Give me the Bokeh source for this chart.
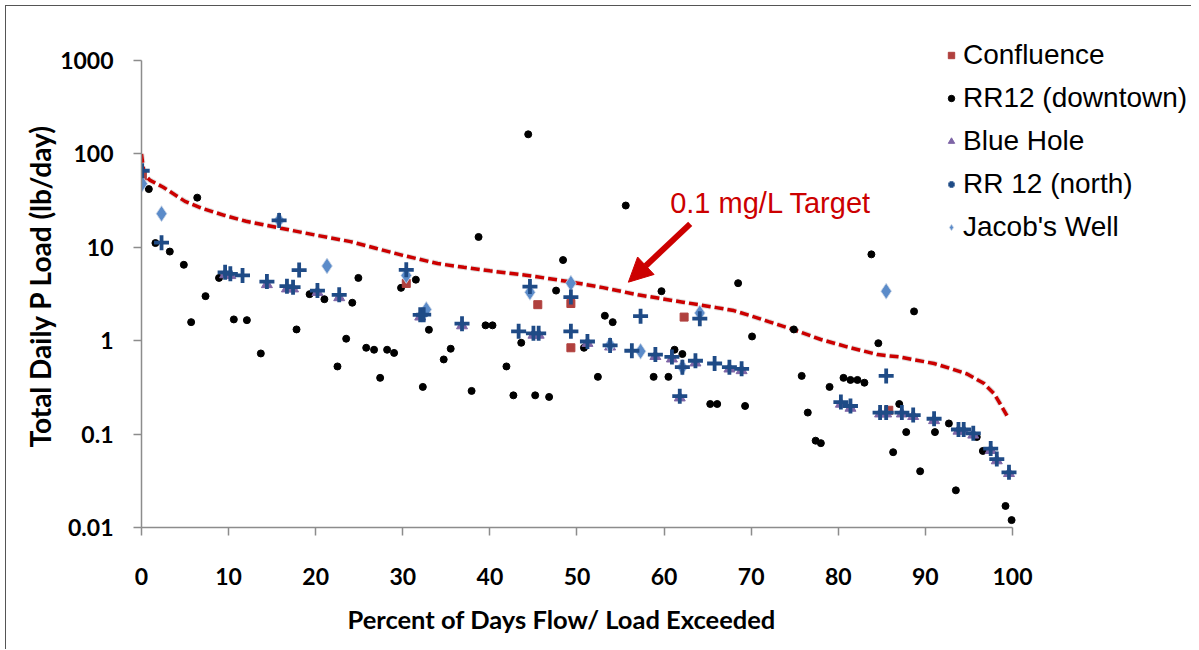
from bokeh.plotting import figure
from bokeh.models import (FixedTicker, Legend, LegendItem, Arrow, NormalHead, Label, Title)
from bokeh.embed import file_html
from bokeh.resources import INLINE

# ---------------- data ----------------
target_x = [0, 0.3, 1, 2.5, 5, 7, 9.5, 12, 16, 20, 24, 27, 30, 34, 37, 40, 45, 49, 53, 57,
            62, 66, 68, 70, 72, 75, 78, 81, 84.5, 87, 91, 93, 94.8, 96.7, 97.9, 98.6, 99.5]
target_y = [100, 60, 52, 44, 31, 26, 22, 19, 16, 13.5, 11.5, 9.7, 8.2, 6.7, 6.1, 5.6, 4.9, 4.3,
            3.7, 3.1, 2.6, 2.26, 2.1, 1.84, 1.6, 1.3, 1.03, 0.86, 0.71, 0.67, 0.57, 0.5, 0.44,
            0.35, 0.27, 0.21, 0.15]

rr12_down_x = [0.84, 1.6, 3.25, 4.86, 5.7, 6.4, 7.35, 8.9, 10.6, 12.1, 13.7, 17.8, 19.3, 21.0,
               22.5, 23.5, 24.2, 24.9, 25.8, 26.7, 27.4, 28.2, 29.0, 29.8, 31.5, 32.3, 33.0,
               34.7, 35.5, 37.9, 38.7, 39.5, 40.3, 41.9, 42.7, 43.6, 44.4, 45.2, 46.8, 47.6,
               48.4, 50.8, 52.4, 53.2, 54.1, 55.6, 58.8, 59.7, 60.5, 61.2, 62.1, 65.3, 66.1,
               68.5, 69.3, 70.1, 74.9, 75.8, 76.5, 77.4, 78.0, 79.0, 80.6, 81.4, 82.2, 83.0,
               83.8, 84.6, 86.3, 87.0, 87.8, 88.7, 89.4, 91.1, 92.7, 93.5, 95.9, 96.6, 99.2, 99.9]
rr12_down_y = [42, 11.1, 9.0, 6.5, 1.58, 34, 3.0, 4.7, 1.69, 1.66, 0.73, 1.32, 3.15, 2.78,
               0.53, 1.05, 2.55, 4.7, 0.84, 0.80, 0.40, 0.80, 0.74, 3.68, 4.5, 0.32, 1.31,
               0.63, 0.82, 0.29, 12.9, 1.46, 1.46, 0.53, 0.26, 0.95, 162, 0.26, 0.25, 3.44,
               7.3, 0.84, 0.41, 1.85, 1.58, 28, 0.41, 3.39, 0.41, 0.80, 0.72, 0.21, 0.21,
               4.13, 0.20, 1.11, 1.32, 0.42, 0.17, 0.085, 0.08, 0.32, 0.40, 0.38, 0.38, 0.355,
               8.4, 0.94, 0.064, 0.21, 0.105, 2.06, 0.04, 0.105, 0.13, 0.025, 0.093, 0.066,
               0.017, 0.012]

rr12_north_x = [0.08, 2.3, 9.6, 10.2, 11.6, 14.4, 15.8, 16.7, 17.4, 18.1, 20.2, 22.7, 30.4,
                32.0, 32.4, 36.8, 43.3, 44.6, 45.0, 45.6, 49.3, 49.3, 51.2, 53.8, 56.3, 57.3,
                59.0, 60.9, 61.8, 62.1, 63.6, 64.1, 65.8, 67.5, 68.9, 80.3, 81.4, 84.8, 85.5,
                85.5, 87.3, 88.6, 91.0, 93.8, 94.4, 95.5, 97.5, 98.2, 99.6]
rr12_north_y = [66, 11.2, 5.4, 5.2, 5.0, 4.3, 19.4, 3.83, 3.74, 5.7, 3.44, 3.1, 5.74,
                1.89, 1.9, 1.52, 1.26, 3.8, 1.2, 1.2, 2.93, 1.26, 0.98, 0.89, 0.78, 1.83,
                0.71, 0.67, 0.255, 0.52, 0.61, 1.72, 0.57, 0.52, 0.50, 0.22, 0.20, 0.17, 0.42,
                0.17, 0.17, 0.16, 0.146, 0.112, 0.112, 0.102, 0.07, 0.054, 0.039]

jacobs_x = [0.08, 2.3, 15.8, 21.3, 30.4, 32.7, 44.6, 49.3, 53.8, 57.3, 62.1, 64.1, 85.5]
jacobs_y = [48, 22.9, 19.5, 6.3, 5.0, 2.16, 3.3, 4.13, 0.9, 0.77, 0.52, 1.98, 3.39]

confluence_x = [0.1, 30.4, 45.5, 49.3, 49.3, 62.3, 85.8]
confluence_y = [58, 4.1, 2.43, 2.5, 0.84, 1.79, 0.18]

bluehole_x = [9.6, 10.2, 14.4, 16.7, 17.4, 20.2, 22.7, 32.0, 36.8, 45.0, 45.6, 51.2, 53.8,
              59.0, 60.9, 61.8, 63.6, 67.5, 68.9, 80.3, 81.4, 84.8, 85.5, 87.3, 88.6, 91.0,
              93.8, 94.4, 95.5, 97.5, 98.2, 99.6]
bluehole_y = [5.1, 5.0, 4.0, 3.6, 3.6, 3.3, 2.9, 1.8, 1.45, 1.15, 1.15, 0.94, 0.86,
              0.68, 0.64, 0.245, 0.58, 0.5, 0.48, 0.21, 0.19, 0.165, 0.165, 0.165, 0.155,
              0.14, 0.108, 0.108, 0.098, 0.067, 0.052, 0.038]

x_ticks = [0, 10, 20, 30, 40, 50, 60, 70, 80, 90, 100]
y_ticks = [0.01, 0.1, 1, 10, 100, 1000]
y_tick_labels = ["0.01", "0.1", "1", "10", "100", "1000"]

x_title = "Percent of Days Flow/ Load Exceeded"
y_title = "Total Daily P Load (lb/day)"
target_label = "0.1 mg/L Target"
arrow_from = (63.0, 17.8)
arrow_to = (55.9, 4.23)
label_pos = (60.7, 30.0)

# ---------------- figure ----------------
RED = "#CC0000"
# the frame extends right/up so the legend (which overhangs the axes) is not clipped;
# the axes themselves are bounded to 0..100 and 0.01..1000
p = figure(width=1186, height=644, x_range=(0, 120.44), y_range=(0.01, 2680),
           y_axis_type="log", output_backend="svg", toolbar_location=None,
           min_border_left=135, min_border_right=2, min_border_top=14,
           min_border_bottom=123,
           styles={"border-left": "1px solid #555", "border-top": "1px solid #555",
                   "margin-left": "5px", "margin-top": "5px"})
p.outline_line_color = None
p.xgrid.visible = False
p.ygrid.visible = False

for ax in (p.xaxis[0], p.yaxis[0]):
    ax.axis_line_color = "#8c8c8c"
    ax.axis_line_width = 1.5
    ax.major_tick_line_color = "#8c8c8c"
    ax.major_tick_line_width = 1.5
    ax.major_tick_in = 0
    ax.major_tick_out = 8
    ax.minor_tick_line_color = None
    ax.major_label_text_font = "Lato"
    ax.major_label_text_font_style = "bold"
    ax.major_label_text_font_size = "23px"
    ax.major_label_text_color = "#000000"

p.xaxis.bounds = (0, 100)
p.yaxis.bounds = (0.01, 1000)
p.xaxis.ticker = FixedTicker(ticks=x_ticks)
p.yaxis.ticker = FixedTicker(ticks=y_ticks, minor_ticks=[])
p.yaxis.major_label_overrides = {t: s for t, s in zip(y_ticks, y_tick_labels)}
p.xaxis.major_label_standoff = 32
p.yaxis.major_label_standoff = 20

# axis titles as side titles so they can be centred on the bounded axes
p.add_layout(Title(text=x_title, align="left", offset=206, standoff=28,
                   text_font="Lato", text_font_style="bold", text_font_size="25.5px",
                   text_color="#000000"), "below")
p.add_layout(Title(text=y_title, align="left", offset=80, standoff=2,
                   text_font="Lato", text_font_style="bold", text_font_size="28px",
                   text_color="#000000"), "left")

# target curve (with soft grey shadow)
p.line(target_x, target_y, line_color="#bbbbbb", line_width=5.5, line_alpha=0.5,
       line_dash="9 4")
p.line(target_x, target_y, line_color=RED, line_width=3.5, line_dash="9 4")

r_down = p.scatter(rr12_down_x, rr12_down_y, marker="circle", size=7,
                   fill_color="black", line_color="black")
r_conf = p.scatter(confluence_x, confluence_y, marker="square", size=8,
                   fill_color="#B0403E", line_color="#B0403E")
r_blue = p.scatter(bluehole_x, bluehole_y, marker="triangle", size=11,
                   fill_color="#7E65A6", line_color="#7E65A6")
r_jac = p.scatter(jacobs_x, jacobs_y, marker="diamond", size=16,
                  fill_color="#5B8BC9", line_color="#cfd9e8", line_width=0.8)
r_north = p.scatter(rr12_north_x, rr12_north_y, marker="cross", size=15,
                    line_color="#1F4B86", line_width=3.8)

legend = Legend(items=[
    LegendItem(label="Confluence", renderers=[r_conf]),
    LegendItem(label="RR12 (downtown)", renderers=[r_down]),
    LegendItem(label="Blue Hole", renderers=[r_blue]),
    LegendItem(label="RR 12 (north)", renderers=[r_north]),
    LegendItem(label="Jacob's Well", renderers=[r_jac]),
], location=(802, 282))
legend.label_text_font = "Liberation Sans"
legend.label_text_font_size = "28px"
legend.label_text_color = "#000000"
legend.label_height = 36
legend.glyph_height = 36
legend.glyph_width = 16
legend.label_standoff = 4
legend.spacing = 7
legend.padding = 0
legend.margin = 0
legend.border_line_color = None
legend.background_fill_alpha = 0
p.add_layout(legend, "center")

p.add_layout(Arrow(end=NormalHead(size=24, fill_color=RED, line_color=RED),
                   x_start=arrow_from[0], y_start=arrow_from[1],
                   x_end=arrow_to[0], y_end=arrow_to[1],
                   line_color=RED, line_width=6))
p.add_layout(Label(x=label_pos[0], y=label_pos[1], text=target_label, text_color=RED,
                   text_font="Liberation Sans", text_font_size="29px",
                   text_baseline="middle"))

open("out.html", "w").write(file_html(p, INLINE))
